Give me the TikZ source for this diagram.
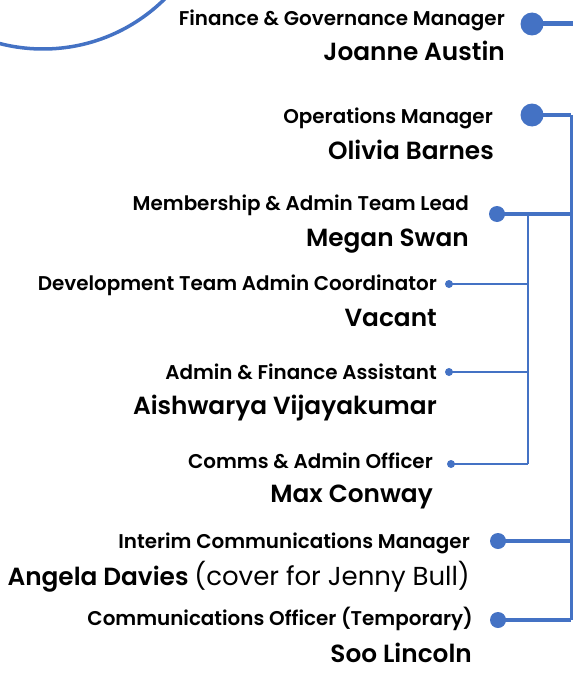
\documentclass[tikz,border=0pt]{standalone}
\usepackage{fontspec}
\newfontfamily\titlefont{Poppins SemiBold}
\newfontfamily\namefont{Poppins SemiBold}
\newfontfamily\regfont{Poppins}
\definecolor{lineblue}{HTML}{4472C4}
\tikzset{
  ttl/.style={anchor=base east,inner sep=0pt,font=\titlefont\fontsize{19.9}{20}\selectfont},
  nme/.style={anchor=base east,inner sep=0pt,font=\namefont\fontsize{24.8}{25}\selectfont},
  bigdot/.style={circle,fill=lineblue,inner sep=0pt,minimum size=23pt},
  middot/.style={circle,fill=lineblue,inner sep=0pt,minimum size=16pt},
  smalldot/.style={circle,fill=lineblue,inner sep=0pt,minimum size=8pt},
  conn/.style={draw=lineblue,line width=#1},
}
\begin{document}
\begin{tikzpicture}[x=1pt,y=-1pt]
\useasboundingbox (0,0) rectangle (573,685);
\begin{scope}
\clip (0,0) rectangle (573,685);
\draw[lineblue,line width=3.5pt] (43,-124) circle (173);
\end{scope}
% titles and names
\node[ttl] (t1) at (505,26) {Finance \& Governance Manager};
\node[nme] (n1) at (505,61) {Joanne Austin};
\node[ttl] (t2) at (493,123) {Operations Manager};
\node[nme] (n2) at (494,159) {Olivia Barnes};
\node[ttl] (t3) at (469,210) {Membership \& Admin Team Lead};
\node[nme] (n3) at (469,246) {Megan Swan};
\node[ttl] (t4) at (437,290) {Development Team Admin Coordinator};
\node[nme] (n4) at (437,326) {Vacant};
\node[ttl] (t5) at (437,379) {Admin \& Finance Assistant};
\node[nme] (n5) at (437,414) {Aishwarya Vijayakumar};
\node[ttl] (t6) at (433,468) {Comms \& Admin Officer};
\node[nme] (n6) at (433,502) {Max Conway};
\node[ttl] (t7) at (470,548) {Interim Communications Manager};
\node[nme] (n7) at (470,585) {Angela Davies {\regfont\fontsize{26}{26}\selectfont(cover for Jenny Bull)}};
\node[ttl] (t8) at (473,625) {Communications Officer (Temporary)};
\node[nme] (n8) at (472,662) {Soo Lincoln};
% dots
\node[bigdot] (d1) at (532,24) {};
\node[bigdot] (d2) at (532,115) {};
\node[middot] (d3) at (497,214) {};
\node[smalldot] (d4) at (449,284) {};
\node[smalldot] (d5) at (449,372) {};
\node[smalldot] (d6) at (451,464) {};
\node[middot] (d7) at (498,541) {};
\node[middot] (d8) at (498,620) {};
% junction coordinates
\coordinate (e1) at (573,24);
\coordinate (c2) at (571,115);
\coordinate (c3) at (571,214);
\coordinate (c7) at (571,541);
\coordinate (c8) at (571,620);
\coordinate (j3) at (528,214);
\coordinate (j4) at (528,284);
\coordinate (j5) at (528,372);
\coordinate (j6) at (528,464);
% connectors
\draw[conn=5pt] (d1.center) -- (e1);
\draw[conn=4pt] (d2.center) -- (c2);
\draw[conn=3pt] (c2) -- (c8);
\draw[conn=3.5pt] (d3.center) -- (c3);
\draw[conn=2.5pt] (j3) -- (j6);
\draw[conn=2pt] (d4.center) -- (j4);
\draw[conn=2pt] (d5.center) -- (j5);
\draw[conn=2pt] (d6.center) -- (j6);
\draw[conn=3.5pt] (d7.center) -- (c7);
\draw[conn=3.5pt] (d8.center) -- (c8);
\end{tikzpicture}
\end{document}
